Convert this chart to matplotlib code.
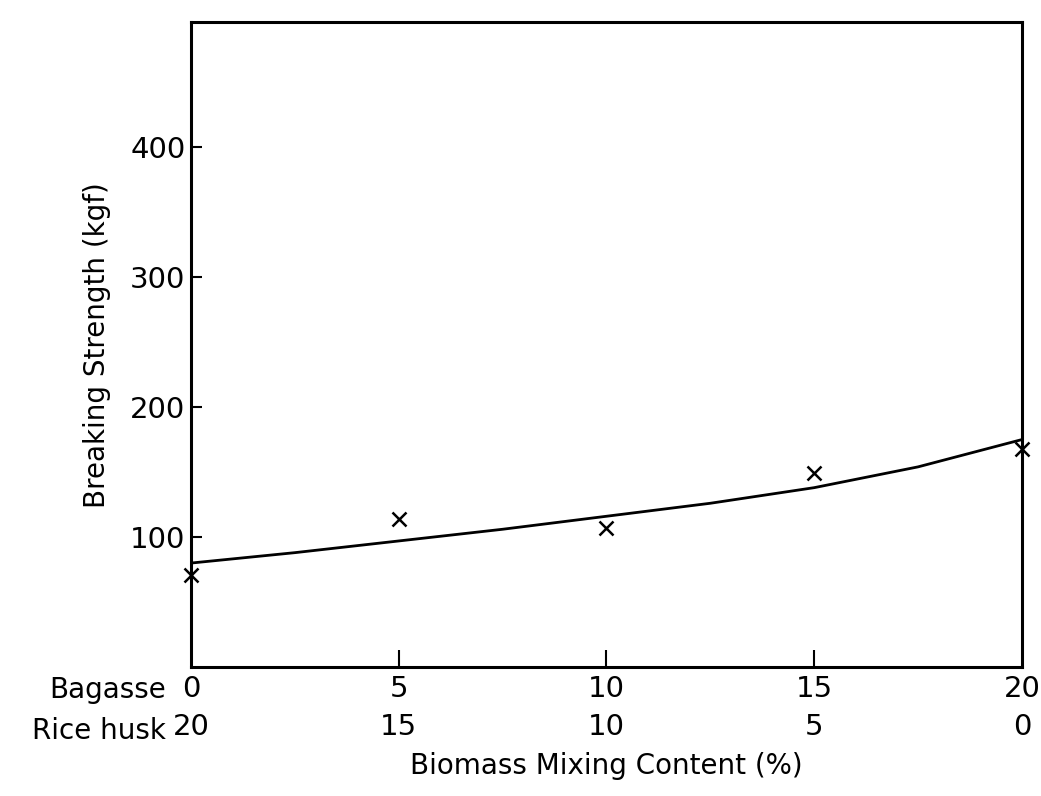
import matplotlib
matplotlib.use("Agg")
import matplotlib.pyplot as plt

# Data
bagasse = [0, 5, 10, 15, 20]
rice_husk = [20, 15, 10, 5, 0]
strength = [71, 114, 107, 149, 168]

curve_x = [0, 2.5, 5, 7.5, 10, 12.5, 15, 17.5, 20]
curve_y = [80, 88, 97, 106, 116, 126, 138, 154, 175]

yticks = [100, 200, 300, 400]

plt.rcParams['font.family'] = ['DejaVu Sans']

fig = plt.figure(figsize=(10.41, 7.96), dpi=100)
ax = fig.add_axes([0.1835, 0.162, 0.7982, 0.810])

ax.plot(curve_x, curve_y, color='black', lw=2.0)
ax.plot(bagasse, strength, linestyle='none', marker='x', color='black',
        markersize=10, markeredgewidth=1.8, clip_on=False)

ax.set_xlim(0, 20)
ax.set_ylim(0, 496)

for s in ax.spines.values():
    s.set_linewidth(2.2)

ax.set_yticks(yticks)
ax.set_yticklabels([str(v) for v in yticks], fontsize=21)
ax.tick_params(axis='y', direction='in', length=8, width=1.5, pad=4)

ax.set_xticks(bagasse)
ax.set_xticklabels([f"{b}\n{r}" for b, r in zip(bagasse, rice_husk)],
                   fontsize=21, linespacing=1.45)
ax.tick_params(axis='x', direction='in', length=12, width=1.5, pad=6)
for lbl in ax.get_xticklabels():
    lbl.set_ha('center')
ax.xaxis.get_major_ticks()[0].tick1line.set_visible(False)
ax.xaxis.get_major_ticks()[-1].tick1line.set_visible(False)

ax.text(-0.03, -0.036, "Bagasse", transform=ax.transAxes, ha='right',
        va='center', fontsize=20)
ax.text(-0.03, -0.099, "Rice husk", transform=ax.transAxes, ha='right',
        va='center', fontsize=20)

ax.set_xlabel("Biomass Mixing Content (%)", fontsize=20, labelpad=8)
ax.set_ylabel("Breaking Strength (kgf)", fontsize=20, labelpad=14)

fig.savefig("out.png", dpi=100)
